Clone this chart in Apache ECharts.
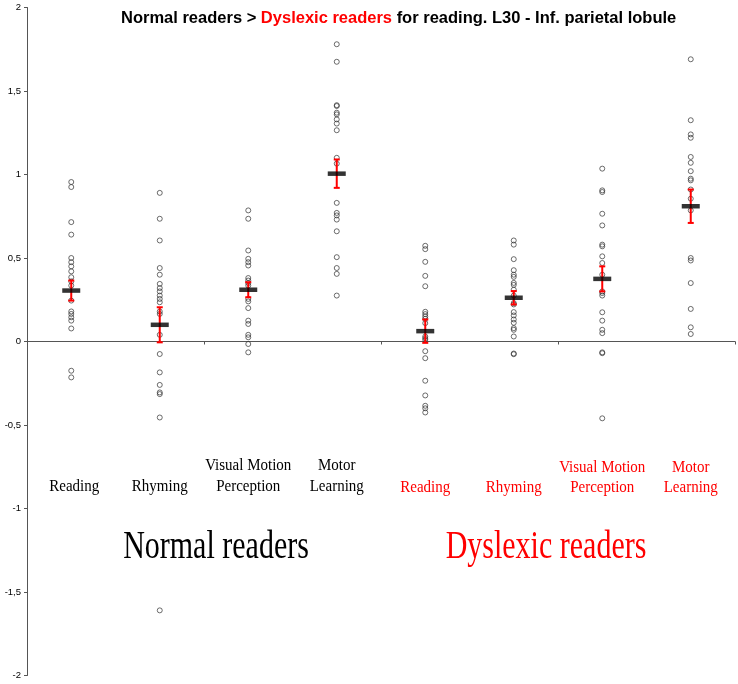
<!DOCTYPE html>
<html>
<head>
<meta charset="utf-8">
<script src="https://cdn.jsdelivr.net/npm/echarts@6/dist/echarts.min.js"></script>
<style>html,body{margin:0;padding:0;background:#fff;}#c{width:738px;height:684px;}</style>
</head>
<body>
<div id="c"></div>
<script>
// ---- data ----
const groups = ['N', 'N', 'N', 'N', 'D', 'D', 'D', 'D'];
const taskLabels = ['Reading', 'Rhyming', 'Visual Motion\nPerception', 'Motor\nLearning',
                    'Reading', 'Rhyming', 'Visual Motion\nPerception', 'Motor\nLearning'];
const groupNames = ['Normal readers', 'Dyslexic readers'];
const yTicks = [-2, -1.5, -1, -0.5, 0, 0.5, 1, 1.5, 2];

const normalReading = [0.955, 0.925, 0.715, 0.64, 0.50, 0.475, 0.45, 0.42, 0.385, 0.36, 0.335, 0.245, 0.18, 0.165, 0.145, 0.125, 0.078, -0.175, -0.215];
const normalRhyming = [0.89, 0.735, 0.605, 0.44, 0.40, 0.345, 0.32, 0.30, 0.275, 0.255, 0.235, 0.18, 0.165, 0.04, -0.075, -0.185, -0.26, -0.305, -0.315, -0.455, -1.61];
const normalVMP = [0.785, 0.735, 0.545, 0.495, 0.475, 0.455, 0.38, 0.365, 0.35, 0.335, 0.255, 0.24, 0.20, 0.125, 0.105, 0.04, 0.025, -0.015, -0.065];
const normalMotor = [1.78, 1.675, 1.415, 1.41, 1.37, 1.36, 1.33, 1.305, 1.265, 1.10, 1.065, 0.83, 0.77, 0.755, 0.73, 0.66, 0.505, 0.44, 0.405, 0.275];
const dysReading = [0.573, 0.553, 0.477, 0.393, 0.331, 0.178, 0.164, 0.15, 0.136, 0.11, 0.03, 0.02, 0.01, -0.058, -0.10, -0.235, -0.323, -0.385, -0.40, -0.425];
const dysRhyming = [0.605, 0.58, 0.493, 0.427, 0.40, 0.387, 0.351, 0.339, 0.31, 0.275, 0.23, 0.222, 0.176, 0.156, 0.132, 0.112, 0.08, 0.07, 0.03, -0.072, -0.076];
const dysVMP = [1.035, 0.905, 0.895, 0.765, 0.695, 0.58, 0.57, 0.51, 0.47, 0.40, 0.30, 0.29, 0.275, 0.175, 0.125, 0.07, 0.05, -0.065, -0.07, -0.46];
const dysMotor = [1.69, 1.325, 1.24, 1.22, 1.105, 1.07, 1.02, 0.975, 0.965, 0.91, 0.855, 0.785, 0.50, 0.485, 0.35, 0.195, 0.085, 0.045];

const means = [0.305, 0.10, 0.31, 1.005, 0.062, 0.262, 0.375, 0.81];
const errors = [0.06, 0.105, 0.045, 0.085, 0.07, 0.04, 0.075, 0.10];

const allPoints = [normalReading, normalRhyming, normalVMP, normalMotor, dysReading, dysRhyming, dysVMP, dysMotor];

// ---- build chart ----
const RED = '#ff0000';
const categories = taskLabels.map((t, i) => groups[i] + '|' + t);
const pointData = [];
allPoints.forEach((arr, i) => arr.forEach(v => pointData.push([i, v])));
const meanData = means.map((m, i) => [i, m]);
const errData = means.map((m, i) => [i, m, errors[i]]);

const chart = echarts.init(document.getElementById('c'), null, {renderer: 'canvas'});
chart.setOption({
  animation: false,
  backgroundColor: '#fff',
  title: {
    text: '{b|Normal readers > }{r|Dyslexic readers}{b| for reading. L30 - Inf. parietal lobule}',
    left: 116, top: 5,
    textStyle: {
      rich: {
        b: {fontFamily: '"Liberation Sans", Arial, sans-serif', fontWeight: 'bold', fontSize: 16.5, color: '#000'},
        r: {fontFamily: '"Liberation Sans", Arial, sans-serif', fontWeight: 'bold', fontSize: 16.5, color: RED}
      }
    }
  },
  grid: {left: 27, right: 3, top: 7.5, bottom: 8.5, containLabel: false, outerBoundsMode: 'none'},
  xAxis: {
    type: 'category',
    data: categories,
    boundaryGap: true,
    axisLine: {onZero: true, lineStyle: {color: '#555', width: 1}},
    axisTick: {show: true, length: 3, inside: false, lineStyle: {color: '#555'}},
    axisLabel: {show: false},
    splitLine: {show: false}
  },
  yAxis: {
    type: 'value',
    min: yTicks[0], max: yTicks[yTicks.length - 1], interval: 0.5,
    axisLine: {show: true, onZero: false, lineStyle: {color: '#555', width: 1}},
    axisTick: {show: true, length: 3, lineStyle: {color: '#555'}},
    axisLabel: {
      margin: 6,
      fontFamily: '"Liberation Sans", Arial, sans-serif',
      fontSize: 9.5,
      color: '#000',
      formatter: v => String(v).replace('.', ',')
    },
    splitLine: {show: false}
  },
  series: [
    {
      type: 'scatter',
      data: pointData,
      symbol: 'circle',
      symbolSize: 5,
      itemStyle: {color: 'rgba(0,0,0,0)', borderColor: '#333', borderWidth: 0.9},
      z: 2
    },
    {
      type: 'custom',
      data: errData,
      encode: {x: 0, y: 1},
      renderItem: function (params, api) {
        const x = api.value(0), m = api.value(1), e = api.value(2);
        const top = api.coord([x, m + e]);
        const bot = api.coord([x, m - e]);
        const hw = 3;
        const st = {stroke: RED, lineWidth: 2};
        return {
          type: 'group',
          children: [
            {type: 'line', shape: {x1: top[0], y1: top[1], x2: bot[0], y2: bot[1]}, style: st},
            {type: 'line', shape: {x1: top[0] - hw, y1: top[1], x2: top[0] + hw, y2: top[1]}, style: st},
            {type: 'line', shape: {x1: bot[0] - hw, y1: bot[1], x2: bot[0] + hw, y2: bot[1]}, style: st}
          ]
        };
      },
      z: 3
    },
    {
      type: 'scatter',
      data: meanData,
      symbol: 'rect',
      symbolSize: [18, 4.5],
      itemStyle: {color: '#000'},
      z: 4
    }
  ]
});

// category and group labels placed through the axes
const px = (i, v) => chart.convertToPixel({gridIndex: 0}, [i, v]);
const labelBottom = px(0, -0.93)[1];
const graphics = [];
categories.forEach((c, i) => {
  const p = px(i, 0);
  graphics.push({
    type: 'text', id: 'cat' + i, x: p[0] + (i === 0 ? 3 : 0), y: labelBottom + (groups[i] === 'D' ? 1.5 : 0),
    scaleY: 1.15, z: 10,
    style: {
      text: taskLabels[i],
      font: '15px "Liberation Serif", "Times New Roman", serif',
      lineHeight: 18,
      fill: groups[i] === 'D' ? RED : '#000',
      align: 'center', verticalAlign: 'bottom'
    }
  });
});
const groupY = px(0, -1.23)[1];
graphics.push({type: 'text', id: 'gN', x: (px(1, 0)[0] + px(2, 0)[0]) / 2 + 12, y: groupY, scaleY: 1.35, z: 10,
  style: {text: groupNames[0], font: '30px "Liberation Serif", "Times New Roman", serif', fill: '#000', align: 'center', verticalAlign: 'middle'}});
graphics.push({type: 'text', id: 'gD', x: (px(5, 0)[0] + px(6, 0)[0]) / 2 - 12, y: groupY, scaleY: 1.35, z: 10,
  style: {text: groupNames[1], font: '30px "Liberation Serif", "Times New Roman", serif', fill: RED, align: 'center', verticalAlign: 'middle'}});
chart.setOption({graphic: graphics});
</script>
</body>
</html>
